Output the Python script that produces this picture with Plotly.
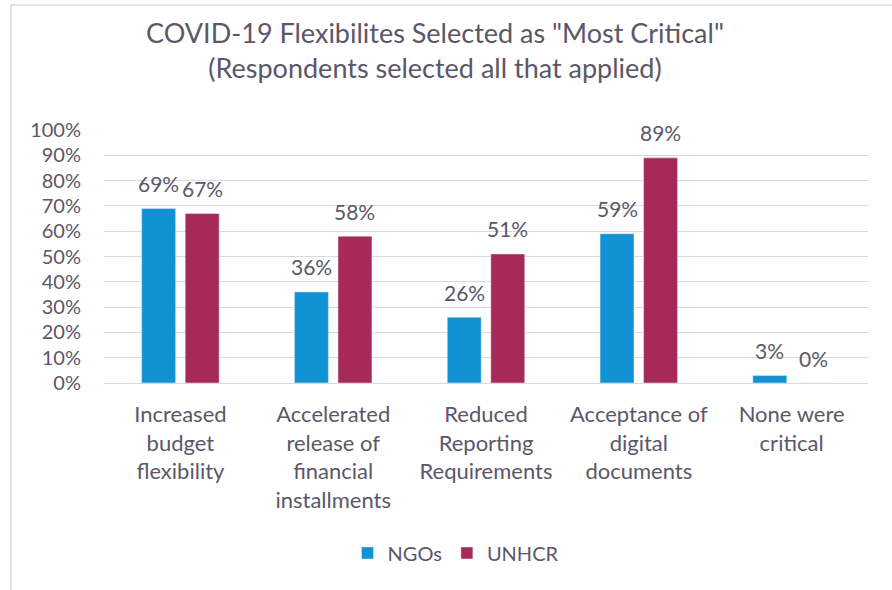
import plotly.graph_objects as go

categories = [
    "Increased<br>budget<br>flexibility",
    "Accelerated<br>release of<br>financial<br>installments",
    "Reduced<br>Reporting<br>Requirements",
    "Acceptance of<br>digital<br>documents",
    "None were<br>critical",
]
ngos = [0.69, 0.36, 0.26, 0.59, 0.03]
unhcr = [0.67, 0.58, 0.51, 0.89, 0.00]
y_ticks = [i / 10 for i in range(11)]
y_tick_labels = [f"{i*10}%" for i in range(11)]

TXT = "#5B5769"
FONT = "Lato"
BLUE = "#1192D3"
MAROON = "#A52A57"

L, R, T, B = 104, 24, 130, 207
W, H = 892, 590
pw, ph = W - L - R, H - T - B
BARGAP, GROUPGAP = 0.43, 0.22
slot = pw / len(categories) * (1 - BARGAP) / 2

fig = go.Figure()
fig.add_trace(go.Bar(name="NGOs", x=categories, y=ngos, marker_color=BLUE))
fig.add_trace(go.Bar(name="UNHCR", x=categories, y=unhcr, marker_color=MAROON))

annotations = []
for series, sign in ((ngos, -1), (unhcr, 1)):
    for c, v in zip(categories, series):
        annotations.append(dict(
            x=c, y=v, xref="x", yref="y", text=f"{round(v*100)}%",
            showarrow=False, xanchor="center", yanchor="middle",
            xshift=sign * slot / 2, yshift=25,
            font=dict(size=21, color=TXT, family=FONT),
        ))

fig.update_layout(
    width=W, height=H,
    margin=dict(l=L, r=R, t=T, b=B),
    paper_bgcolor="white", plot_bgcolor="white",
    font=dict(family=FONT, color=TXT, size=21),
    barmode="group", bargap=BARGAP, bargroupgap=GROUPGAP,
    title=dict(
        text='COVID-19 Flexibilites Selected as "Most Critical"<br>(Respondents selected all that applied)',
        x=435 / W, xanchor="center", y=1 - 43 / H, yanchor="middle",
        font=dict(size=27, color=TXT, family=FONT),
    ),
    legend=dict(
        orientation="h", x=(456 - L) / pw, xanchor="center",
        y=-(553 - (T + ph)) / ph, yanchor="middle",
        font=dict(size=20, color=TXT, family=FONT),
        traceorder="normal", itemwidth=30,
    ),
    xaxis=dict(showline=False, ticks="", ticklabelstandoff=16,
               tickfont=dict(size=22, color=TXT, family=FONT)),
    yaxis=dict(
        range=[0, 1], tickvals=y_ticks, ticktext=y_tick_labels,
        showgrid=True, gridcolor="#D9D9D9", gridwidth=1,
        zeroline=True, zerolinecolor="#D9D9D9", zerolinewidth=1,
        showline=False, ticks="", ticklabelstandoff=22,
        tickfont=dict(size=20, color=TXT, family=FONT),
    ),
    annotations=annotations,
    shapes=[dict(
        type="rect", xref="paper", yref="paper",
        x0=(11 - L) / pw, x1=(W + 5 - L) / pw,
        y0=-(H + 5 - (T + ph)) / ph, y1=((T + ph) - 5) / ph,
        line=dict(color="#D9D9D9", width=1.5), fillcolor="rgba(0,0,0,0)",
        layer="below",
    )],
)

fig.write_html("out.html")
